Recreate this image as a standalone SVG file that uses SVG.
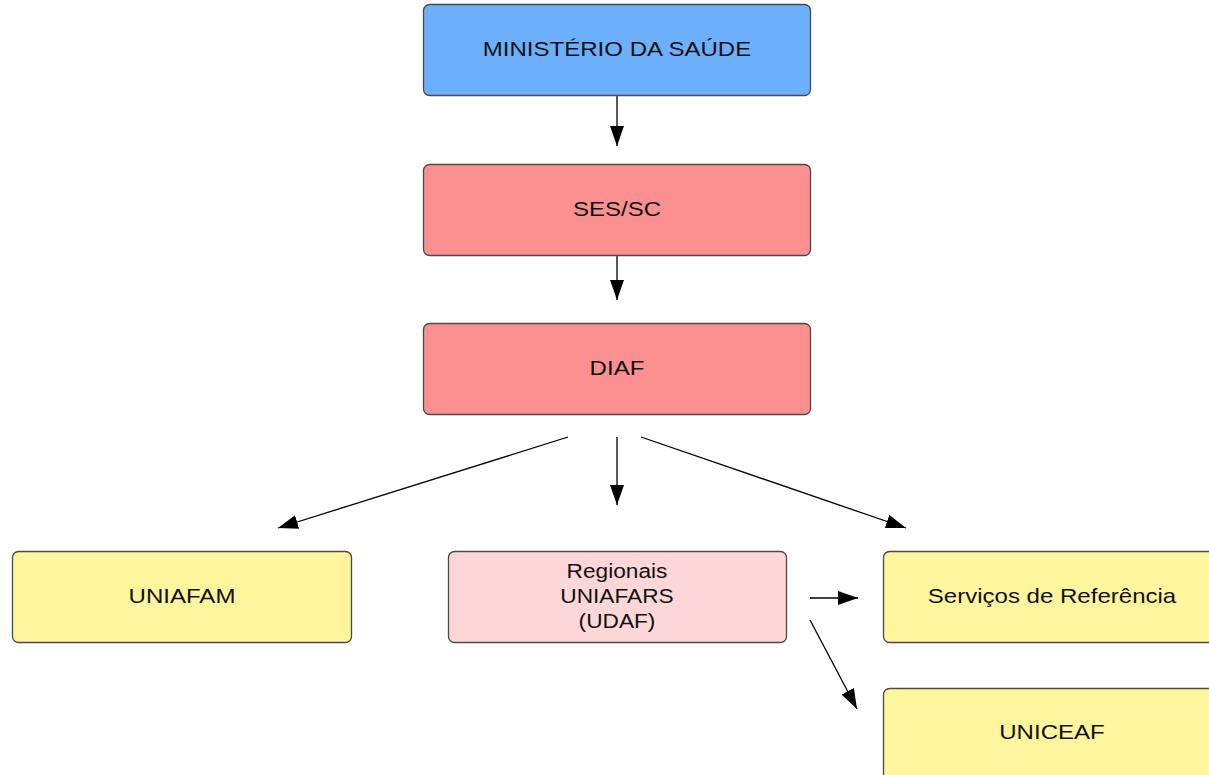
<svg xmlns="http://www.w3.org/2000/svg" width="1209" height="775" viewBox="0 0 1209 775">
<style>
.box{stroke:#4a4a4a;stroke-width:1.3}
.blue{fill:#6cb0fd}
.red{fill:#fc8f8f}
.pink{fill:#fdd7d7}
.yellow{fill:#fef59d}
.t{font-family:"Liberation Sans",Arial,sans-serif;font-size:21px;fill:#111;text-anchor:middle;dominant-baseline:central}
.c{stroke:#000;stroke-width:1.3;fill:none;marker-end:url(#ah2)}
</style>
<defs>
<marker id="ah2" viewBox="0 0 20 14" refX="20" refY="7" markerWidth="20" markerHeight="14" markerUnits="userSpaceOnUse" orient="auto">
<path d="M0,0 L20,7 L0,14 z" fill="#000"/>
</marker>
</defs>
<rect width="1209" height="775" fill="#fff"/>
<g id="connectors">
<line class="c" x1="617" y1="96" x2="617" y2="146"/>
<line class="c" x1="617" y1="256" x2="617" y2="300"/>
<line class="c" x1="617" y1="437" x2="617" y2="505"/>
<line class="c" x1="568" y1="437" x2="278" y2="528"/>
<line class="c" x1="641" y1="437" x2="906" y2="528"/>
<line class="c" x1="810" y1="598" x2="858" y2="598"/>
<line class="c" x1="810" y1="620" x2="857" y2="709"/>
</g>
<g id="ministerio">
<rect class="box blue" x="423.5" y="4.5" width="387" height="91" rx="6"/>
<text class="t" transform="translate(617,49) scale(1.145,1)">MINISTÉRIO DA SAÚDE</text>
</g>
<g id="ses">
<rect class="box red" x="423.5" y="164.5" width="387" height="91" rx="6"/>
<text class="t" transform="translate(617,209) scale(1.145,1)">SES/SC</text>
</g>
<g id="diaf">
<rect class="box red" x="423.5" y="323.5" width="387" height="91" rx="6"/>
<text class="t" transform="translate(617,368) scale(1.145,1)">DIAF</text>
</g>
<g id="uniafam">
<rect class="box yellow" x="12.5" y="551.5" width="339" height="91" rx="6"/>
<text class="t" transform="translate(182,596) scale(1.145,1)">UNIAFAM</text>
</g>
<g id="regionais">
<rect class="box pink" x="448.5" y="551.5" width="338" height="91" rx="6"/>
<text class="t" transform="translate(617,571) scale(1.08,1)">Regionais</text>
<text class="t" transform="translate(617,596) scale(1.08,1)">UNIAFARS</text>
<text class="t" transform="translate(617,621) scale(1.08,1)">(UDAF)</text>
</g>
<g id="servicos">
<rect class="box yellow" x="883.5" y="551.5" width="340" height="91" rx="6"/>
<text class="t" transform="translate(1052,596) scale(1.145,1)">Serviços de Referência</text>
</g>
<g id="uniceaf">
<rect class="box yellow" x="883.5" y="688.5" width="340" height="110" rx="6"/>
<text class="t" transform="translate(1052,732) scale(1.145,1)">UNICEAF</text>
</g>
</svg>
